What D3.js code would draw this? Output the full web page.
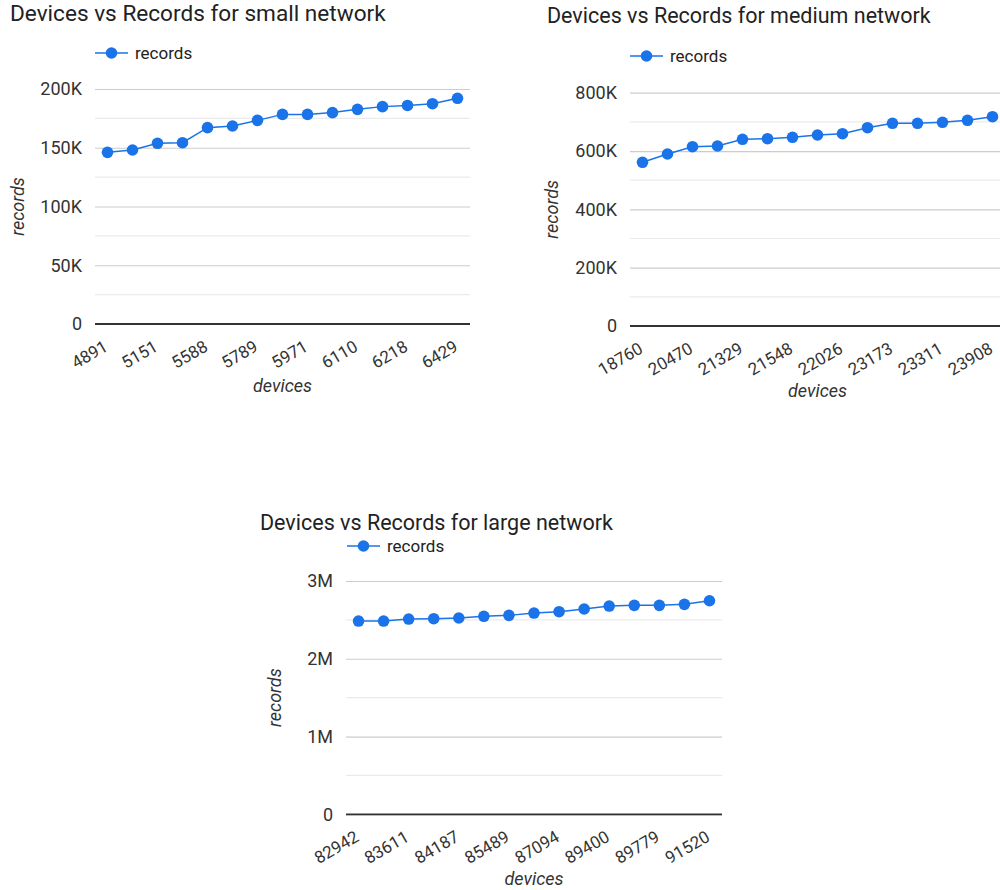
<!DOCTYPE html>
<html>
<head>
<meta charset="utf-8">
<script src="https://cdn.jsdelivr.net/npm/d3@7"></script>
<style>
  html, body { margin: 0; padding: 0; background: #fff; }
  svg { display: block; font-family: Roboto, "Noto Sans", Arial, sans-serif; }
</style>
</head>
<body>
<svg id="chart" width="1000" height="890"></svg>
<script>
// Device counts (x categories) and record totals for each network size.
const smallDevices = ["4891", "5020", "5151", "5390", "5588", "5702", "5789", "5880", "5971", "6045", "6110", "6170", "6218", "6330", "6429"];
const smallRecords = [146100, 148100, 153800, 154300, 167100, 168500, 173300, 178400, 178400, 179900, 182700, 185000, 186000, 187500, 192100];

const mediumDevices = ["18760", "19650", "20470", "20950", "21329", "21440", "21548", "21790", "22026", "22600", "23173", "23240", "23311", "23610", "23908"];
const mediumRecords = [561300, 589800, 614800, 617200, 640200, 642300, 647000, 655000, 659400, 680000, 695000, 695000, 698500, 705300, 717700];

const largeDevices = ["82942", "83270", "83611", "83900", "84187", "84840", "85489", "86290", "87094", "88250", "89400", "89590", "89779", "90650", "91520"];
const largeRecords = [2485000, 2485000, 2511000, 2515000, 2524000, 2546000, 2558000, 2588000, 2605000, 2640000, 2678000, 2687000, 2687000, 2700000, 2746000];

const seriesName = "records";
const xTitle = "devices";
const yTitle = "records";

const smallTicks = [0, 50000, 100000, 150000, 200000];
const smallMinor = [25000, 75000, 125000, 175000];
const mediumTicks = [0, 200000, 400000, 600000, 800000];
const mediumMinor = [100000, 300000, 500000, 700000];
const largeTicks = [0, 1000000, 2000000, 3000000];
const largeMinor = [500000, 1500000, 2500000];

const fmtK = d => d === 0 ? "0" : (d / 1000) + "K";
const fmtM = d => d === 0 ? "0" : (d / 1000000) + "M";

const blue = "#1a73e8";
const svg = d3.select("#chart");

function drawPanel(p) {
  const g = svg.append("g");

  const x = d3.scalePoint().domain(p.devices).range([p.left, p.right]).padding(0.5);
  const y = d3.scaleLinear().domain([0, p.yMax]).range([p.bottom, p.top]);

  // Title
  g.append("text")
    .attr("x", p.titleX).attr("y", p.titleY)
    .attr("font-size", p.titleSize).attr("fill", "#222")
    .text(p.title);

  // Legend
  const lg = g.append("g").attr("transform", `translate(${p.legendX},${p.legendY})`);
  lg.append("line").attr("x1", 0).attr("x2", 33).attr("y1", 0).attr("y2", 0)
    .attr("stroke", blue).attr("stroke-width", 1.5);
  lg.append("circle").attr("cx", 16.5).attr("cy", 0).attr("r", 5.8).attr("fill", blue);
  lg.append("text").attr("x", 40).attr("y", 6).attr("font-size", 17).attr("fill", "#222").text(seriesName);

  // Minor gridlines
  g.append("g").selectAll("line").data(p.minor).join("line")
    .attr("x1", p.left).attr("x2", p.right)
    .attr("y1", d => y(d)).attr("y2", d => y(d))
    .attr("stroke", "#ebebeb").attr("stroke-width", 1.2);

  // Major gridlines and y tick labels
  const yAxis = d3.axisLeft(y).tickValues(p.ticks).tickFormat(p.fmt).tickSize(-(p.right - p.left)).tickPadding(13);
  const ya = g.append("g").attr("transform", `translate(${p.left},0)`).call(yAxis);
  ya.select(".domain").remove();
  ya.selectAll(".tick line").attr("stroke", "#cccccc").attr("stroke-width", 1.2);
  ya.selectAll(".tick text").attr("font-size", 18).attr("fill", "#333").attr("font-family", "Roboto, sans-serif");

  // Baseline
  g.append("line").attr("x1", p.left).attr("x2", p.right)
    .attr("y1", y(0)).attr("y2", y(0))
    .attr("stroke", "#333").attr("stroke-width", 1.8);

  // Slanted x tick labels (every second category)
  g.append("g").selectAll("text").data(p.devices.filter((d, i) => i % 2 === 0)).join("text")
    .attr("transform", d => `translate(${x(d) + 1.5},${y(0) + 26}) rotate(-30)`)
    .attr("text-anchor", "end")
    .attr("font-size", 17).attr("fill", "#333")
    .text(d => d);

  // Axis titles
  g.append("text")
    .attr("x", (p.left + p.right) / 2).attr("y", p.xTitleY)
    .attr("text-anchor", "middle").attr("font-size", 18).attr("font-style", "italic").attr("fill", "#333")
    .text(xTitle);
  g.append("text")
    .attr("transform", `translate(${p.yTitleX},${(p.top + p.bottom) / 2}) rotate(-90)`)
    .attr("text-anchor", "middle").attr("font-size", 18).attr("font-style", "italic").attr("fill", "#333")
    .text(yTitle);

  // Series line and points
  const pts = p.devices.map((d, i) => [d, p.records[i]]);
  g.append("path").datum(pts)
    .attr("fill", "none").attr("stroke", blue).attr("stroke-width", 1.5)
    .attr("d", d3.line().x(d => x(d[0])).y(d => y(d[1])));
  g.append("g").selectAll("circle").data(pts).join("circle")
    .attr("cx", d => x(d[0])).attr("cy", d => y(d[1])).attr("r", 5.8).attr("fill", blue);
}

drawPanel({
  title: "Devices vs Records for small network", titleX: 10, titleY: 21, titleSize: 22.6,
  legendX: 95, legendY: 53,
  devices: smallDevices, records: smallRecords,
  left: 95, right: 470, top: 89, bottom: 324, yMax: 200000,
  ticks: smallTicks, minor: smallMinor, fmt: fmtK,
  xTitleY: 392, yTitleX: 24
});

drawPanel({
  title: "Devices vs Records for medium network", titleX: 547, titleY: 23, titleSize: 21.5,
  legendX: 630, legendY: 56,
  devices: mediumDevices, records: mediumRecords,
  left: 630, right: 1005, top: 92.7, bottom: 326, yMax: 800000,
  ticks: mediumTicks, minor: mediumMinor, fmt: fmtK,
  xTitleY: 397, yTitleX: 558
});

drawPanel({
  title: "Devices vs Records for large network", titleX: 260, titleY: 530, titleSize: 21.5,
  legendX: 347, legendY: 546,
  devices: largeDevices, records: largeRecords,
  left: 346, right: 722, top: 581, bottom: 814.3, yMax: 3000000,
  ticks: largeTicks, minor: largeMinor, fmt: fmtM,
  xTitleY: 885, yTitleX: 281
});
</script>
</body>
</html>
